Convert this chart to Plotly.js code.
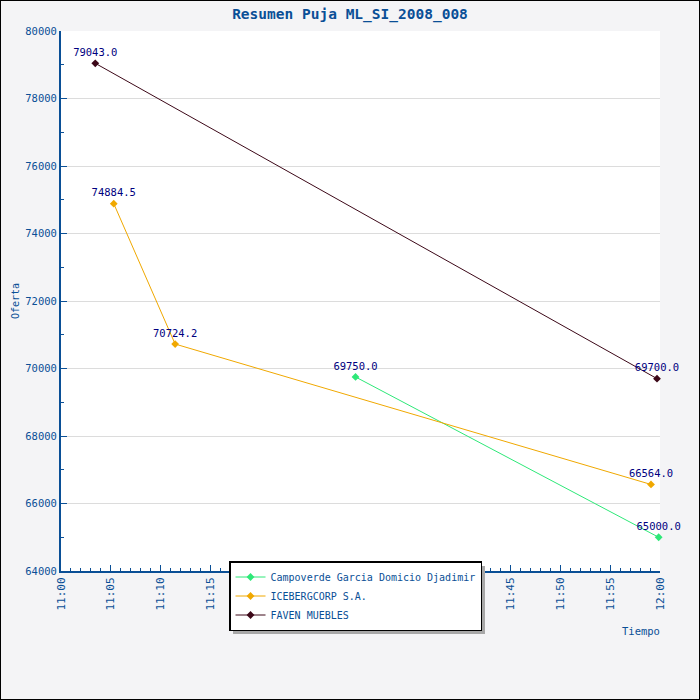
<!DOCTYPE html>
<html>
<head>
<meta charset="utf-8">
<script src="https://cdn.plot.ly/plotly-3.0.1.min.js"></script>
<style>
  body { margin: 0; background: #fff; }
  #chart { width: 698px; height: 698px; border: 1px solid #000; }
</style>
</head>
<body>
<div id="chart"></div>
<script>
// bids per bidder (time, amount)
const seriesNames = ['Campoverde Garcia Domicio Djadimir', 'ICEBERGCORP S.A.', 'FAVEN MUEBLES'];
const seriesColors = ['#2ee878', '#f0a800', '#3c0818'];

const campoverdeTimes = ['2008-01-01 11:29:30', '2008-01-01 11:59:52'];
const campoverdeBids = [69750.0, 65000.0];

const icebergTimes = ['2008-01-01 11:05:17', '2008-01-01 11:11:26', '2008-01-01 11:59:06'];
const icebergBids = [74884.5, 70724.2, 66564.0];

const favenTimes = ['2008-01-01 11:03:26', '2008-01-01 11:59:42'];
const favenBids = [79043.0, 69700.0];

const xRange = ['2008-01-01 11:00', '2008-01-01 12:00'];
const yRange = [64000, 80000];

const axisBlue = '#0a4f96';
const mono = 'DejaVu Sans Mono, monospace';

function makeTrace(name, x, y, color) {
  return {
    x: x,
    y: y,
    name: name,
    type: 'scatter',
    mode: 'lines+markers+text',
    line: {color: color, width: 1},
    marker: {symbol: 'diamond', size: 6, color: color},
    texttemplate: '%{y:.1f}',
    textposition: 'top center',
    textfont: {family: mono, size: 10.5, color: '#000080'},
    cliponaxis: false
  };
}

var data = [
  makeTrace(seriesNames[0], campoverdeTimes, campoverdeBids, seriesColors[0]),
  makeTrace(seriesNames[1], icebergTimes, icebergBids, seriesColors[1]),
  makeTrace(seriesNames[2], favenTimes, favenBids, seriesColors[2])
];

var layout = {
  width: 698,
  height: 698,
  paper_bgcolor: '#f4f4f6',
  plot_bgcolor: '#ffffff',
  margin: {l: 60, r: 39, t: 30, b: 128},
  font: {family: mono, size: 10, color: axisBlue},
  title: {
    text: '<b>Resumen Puja ML_SI_2008_008</b>',
    font: {family: mono, size: 14.5, color: axisBlue},
    x: 0.5, xanchor: 'center',
    y: 0.982, yanchor: 'middle'
  },
  xaxis: {
    type: 'date',
    range: xRange,
    dtick: 300000,
    tick0: '2008-01-01 11:00',
    tickformat: '%H:%M',
    tickangle: -90,
    ticks: 'inside',
    ticklen: 6,
    tickcolor: axisBlue,
    showline: true,
    linecolor: axisBlue,
    linewidth: 2,
    showgrid: false,
    zeroline: false,
    tickfont: {family: mono, size: 11, color: axisBlue},
    minor: {dtick: 60000, ticks: 'inside', ticklen: 3, tickcolor: axisBlue, showgrid: false}
  },
  yaxis: {
    range: yRange,
    dtick: 2000,
    tickformat: 'd',
    ticks: 'inside',
    ticklen: 6,
    tickcolor: axisBlue,
    showline: true,
    linecolor: axisBlue,
    linewidth: 2,
    gridcolor: '#dcdcdc',
    zeroline: false,
    tickfont: {family: mono, size: 10.5, color: axisBlue},
    minor: {dtick: 1000, ticks: 'inside', ticklen: 3, tickcolor: axisBlue, showgrid: false},
    title: {text: 'Oferta', standoff: 4, font: {family: mono, size: 10, color: axisBlue}}
  },
  showlegend: true,
  legend: {
    x: 0.2805, xanchor: 'left',
    y: 0.0185, yanchor: 'top',
    bgcolor: '#ffffff',
    bordercolor: '#000000',
    borderwidth: 1.5,
    font: {family: mono, size: 10, color: axisBlue},
    tracegroupgap: 0,
    itemwidth: 30
  },
  annotations: [{
    text: 'Tiempo',
    xref: 'paper', yref: 'paper',
    x: 0.968, y: -0.112,
    xanchor: 'center', yanchor: 'middle',
    showarrow: false,
    font: {family: mono, size: 10.5, color: axisBlue}
  }],
  shapes: [{
    type: 'rect',
    xref: 'paper', yref: 'paper',
    x0: (233 - 61) / 599, x1: (485 - 61) / 599,
    y0: (571 - 634) / 540, y1: (571 - 566) / 540,
    fillcolor: '#a8a8a8',
    line: {width: 0},
    layer: 'above'
  }]
};

Plotly.newPlot(document.getElementById('chart'), data, layout, {displayModeBar: false, staticPlot: true});
</script>
</body>
</html>
